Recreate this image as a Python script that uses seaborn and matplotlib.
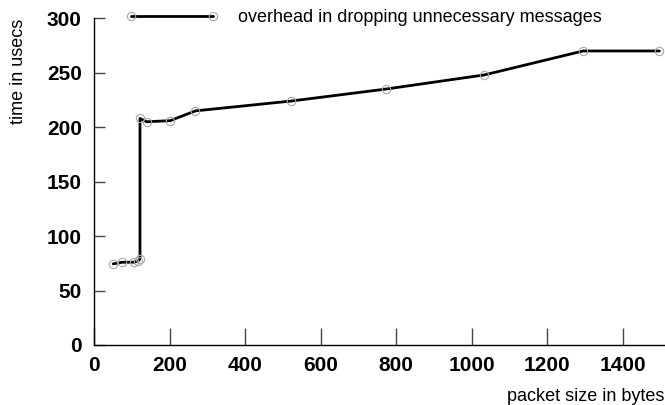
import pandas as pd
import seaborn as sns
import matplotlib.pyplot as plt

# packet size (bytes) vs time (usecs)
packet_size = [50, 74, 104, 116, 121, 121, 139, 201, 268, 521, 772, 1033, 1295, 1497]
time_usecs = [74.5, 76, 76, 77, 79, 208, 205, 206, 215, 224, 235, 248, 270, 270]
series_name = "overhead in dropping unnecessary messages"

df = pd.DataFrame({'size': packet_size, 'time': time_usecs})

sns.set_style('ticks')
plt.rcParams['font.family'] = ['Liberation Sans', 'DejaVu Sans']
plt.rcParams['text.color'] = 'black'
plt.rcParams['axes.labelcolor'] = 'black'
plt.rcParams['xtick.labelcolor'] = 'black'
plt.rcParams['ytick.labelcolor'] = 'black'

fig = plt.figure(figsize=(6.65, 4.05), dpi=100)
ax = fig.add_axes([94.3 / 665, 1 - 345 / 405, (664.3 - 94.3) / 665, (345 - 18.3) / 405])

sns.lineplot(data=df, x='size', y='time', ax=ax, estimator=None, sort=False,
             color='black', linewidth=2, marker='o', markersize=6,
             markerfacecolor='none', markeredgecolor='#a8a8a8', markeredgewidth=0.8,
             label=series_name)

ax.set_xlim(0, 1510)
ax.set_ylim(0, 300)
ax.set_xticks(range(0, 1401, 200))
ax.set_yticks(range(0, 301, 50))

sns.despine(ax=ax)
for s in ['left', 'bottom']:
    ax.spines[s].set_color('black')
    ax.spines[s].set_linewidth(1)

ax.tick_params(axis='x', direction='in', length=12, width=1, color='#444444',
               labelcolor='black', pad=8)
ax.tick_params(axis='y', direction='in', length=8, width=1, color='#444444',
               labelcolor='black', pad=9)
for lab in ax.get_xticklabels() + ax.get_yticklabels():
    lab.set_fontsize(15)
    lab.set_fontweight('bold')

ax.set_xlabel('packet size in bytes', fontsize=13, loc='right', labelpad=9, color='black')
ax.set_ylabel('time in usecs', fontsize=13, loc='top', labelpad=14, color='black')

leg = ax.legend(loc='upper left', bbox_to_anchor=(125.3 / 665, 0.978),
                bbox_transform=fig.transFigure, frameon=False, fontsize=13,
                numpoints=2, handlelength=5.17, handletextpad=1.07,
                borderpad=0, borderaxespad=0)
for t in leg.get_texts():
    t.set_color('black')

fig.savefig('out.png', dpi=100)
